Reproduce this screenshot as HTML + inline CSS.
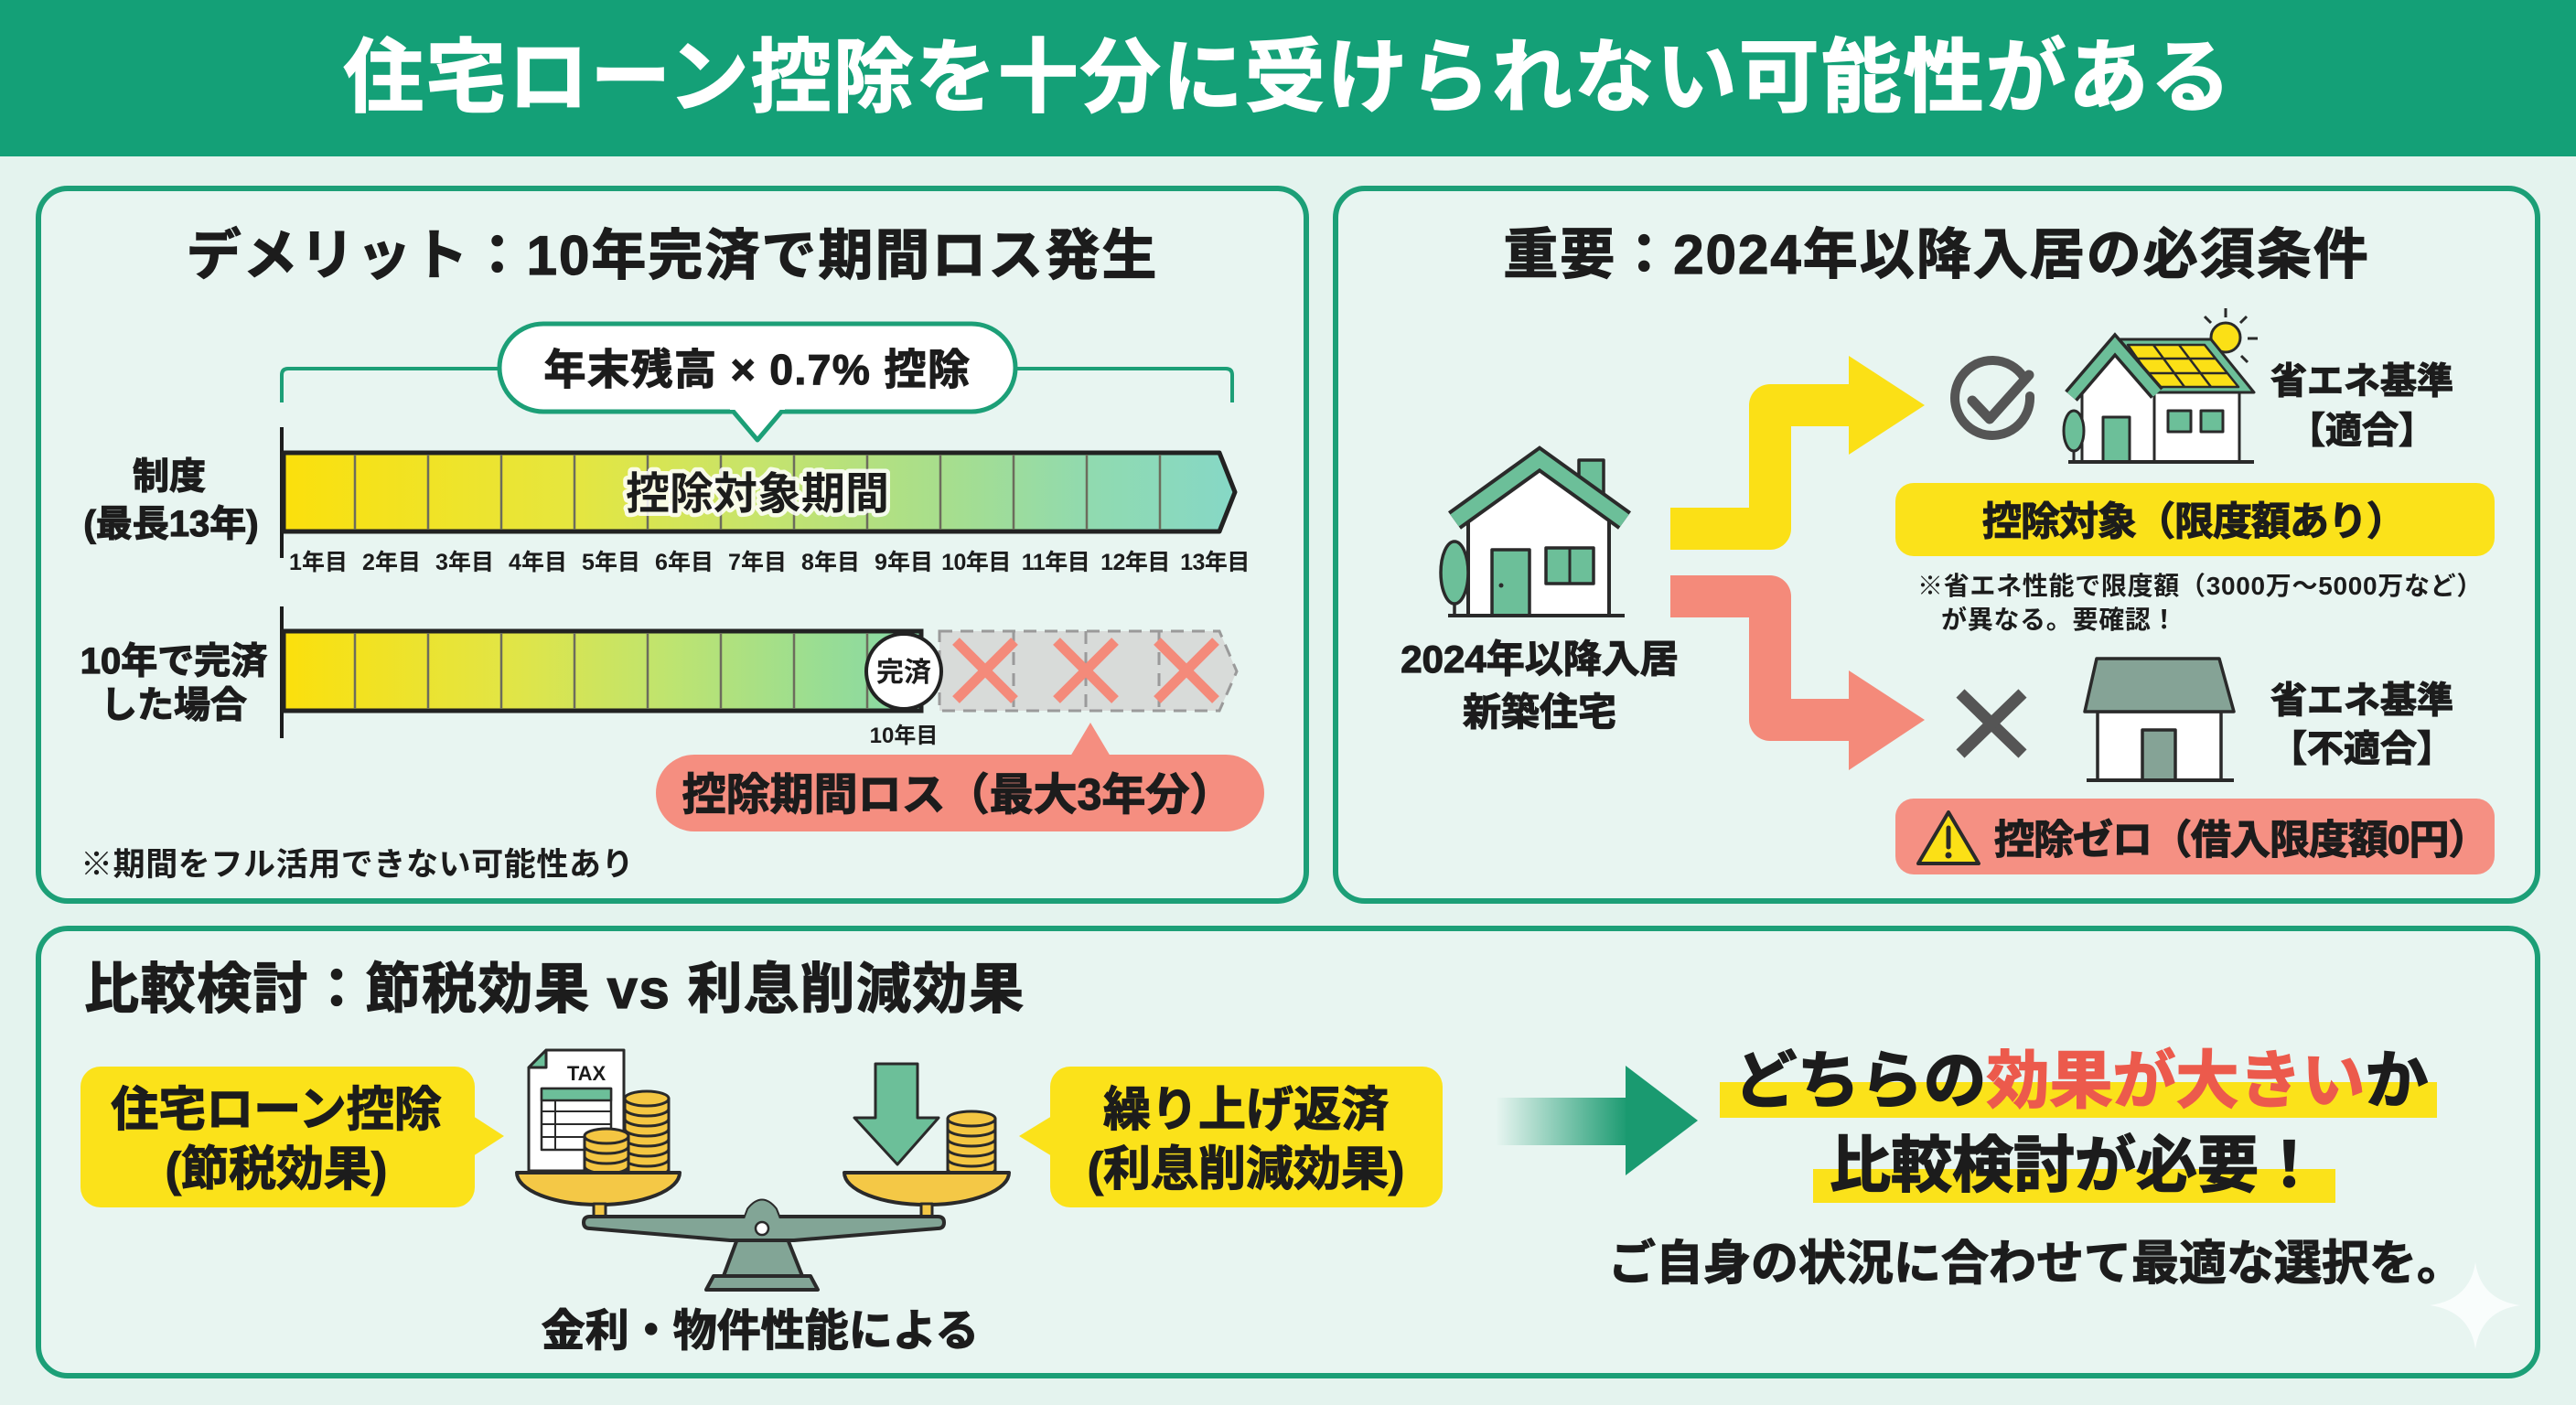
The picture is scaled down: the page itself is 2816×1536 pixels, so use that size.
<!DOCTYPE html>
<html><head><meta charset="utf-8"><style>
html,body{margin:0;padding:0;background:#e4f3ee;}
svg{display:block}
text{font-family:"Liberation Sans","Noto Sans CJK JP",sans-serif;font-weight:700;fill:#1c1c1c}
.hv{stroke:#1c1c1c;stroke-width:1.2;paint-order:stroke}
</style></head><body>
<svg width="2816" height="1536" viewBox="0 0 2816 1536" xmlns="http://www.w3.org/2000/svg">
<defs>
<linearGradient id="g1" x1="310" x2="1350" y1="0" y2="0" gradientUnits="userSpaceOnUse">
<stop offset="0" stop-color="#fbe00c"/><stop offset="0.3" stop-color="#e6e63e"/><stop offset="0.5" stop-color="#c6e46c"/><stop offset="0.7" stop-color="#a6de8e"/><stop offset="0.85" stop-color="#90dab0"/><stop offset="1" stop-color="#86d8c6"/>
</linearGradient>
<linearGradient id="g2" x1="310" x2="1007" y1="0" y2="0" gradientUnits="userSpaceOnUse">
<stop offset="0" stop-color="#fbe00c"/><stop offset="0.35" stop-color="#e2e545"/><stop offset="0.6" stop-color="#bfe46f"/><stop offset="0.85" stop-color="#98dd94"/><stop offset="1" stop-color="#86d7a8"/>
</linearGradient>
<linearGradient id="ga" x1="1635" x2="1780" y1="0" y2="0" gradientUnits="userSpaceOnUse">
<stop offset="0" stop-color="#1a9a70" stop-opacity="0"/><stop offset="1" stop-color="#1a9a70"/>
</linearGradient>
</defs>

<rect x="0" y="0" width="2816" height="1536" fill="#e4f3ee"/>
<rect x="0" y="0" width="2816" height="171" fill="#14a077"/>
<text x="1408" y="115" font-size="88" text-anchor="middle" letter-spacing="2" style="fill:#fff;stroke:#fff;stroke-width:1.5">住宅ローン控除を十分に受けられない可能性がある</text>

<rect x="42" y="206" width="1386" height="779" rx="32" fill="#e8f5f1" stroke="#1c9f77" stroke-width="6"/>
<rect x="1460" y="206" width="1314" height="779" rx="32" fill="#e8f5f1" stroke="#1c9f77" stroke-width="6"/>
<rect x="42" y="1015" width="2732" height="489" rx="32" fill="#e8f5f1" stroke="#1c9f77" stroke-width="6"/>

<!-- PANEL 1 -->
<text class="hv" x="735" y="300" font-size="60" text-anchor="middle" letter-spacing="2">デメリット：10年完済で期間ロス発生</text>

<path d="M308,440 V410 Q308,403 315,403 H1340 Q1347,403 1347,410 V440" fill="none" stroke="#1c9f77" stroke-width="4"/>
<rect x="546" y="354" width="564" height="96" rx="48" fill="#fff" stroke="#1c9f77" stroke-width="5"/>
<path d="M800,448 L828,481 L856,448" fill="#fff" stroke="#1c9f77" stroke-width="5" stroke-linejoin="round"/>
<rect x="798" y="440" width="60" height="8" fill="#fff"/>
<text class="hv" x="828" y="420" font-size="46" text-anchor="middle" letter-spacing="1.5">年末残高 × 0.7% 控除</text>

<line x1="308" y1="467" x2="308" y2="610" stroke="#1c1c1c" stroke-width="4"/>
<polygon points="310,495 1333,495 1350,538 1333,581 310,581" fill="url(#g1)" stroke="#222" stroke-width="5" stroke-linejoin="round"/>
<g stroke="#6c6c5c" stroke-width="2.5">
<line x1="388" y1="497" x2="388" y2="579"/><line x1="468" y1="497" x2="468" y2="579"/><line x1="548" y1="497" x2="548" y2="579"/><line x1="628" y1="497" x2="628" y2="579"/><line x1="708" y1="497" x2="708" y2="579"/><line x1="788" y1="497" x2="788" y2="579"/><line x1="868" y1="497" x2="868" y2="579"/><line x1="948" y1="497" x2="948" y2="579"/><line x1="1028" y1="497" x2="1028" y2="579"/><line x1="1108" y1="497" x2="1108" y2="579"/><line x1="1188" y1="497" x2="1188" y2="579"/><line x1="1268" y1="497" x2="1268" y2="579"/>
</g>
<text x="828" y="556" font-size="48" text-anchor="middle" style="paint-order:stroke;stroke:#ffffff;stroke-width:9;stroke-opacity:0.85;stroke-linejoin:round">控除対象期間</text>

<text x="348" y="623" font-size="25" text-anchor="middle">1年目</text>
<text x="428" y="623" font-size="25" text-anchor="middle">2年目</text>
<text x="508" y="623" font-size="25" text-anchor="middle">3年目</text>
<text x="588" y="623" font-size="25" text-anchor="middle">4年目</text>
<text x="668" y="623" font-size="25" text-anchor="middle">5年目</text>
<text x="748" y="623" font-size="25" text-anchor="middle">6年目</text>
<text x="828" y="623" font-size="25" text-anchor="middle">7年目</text>
<text x="908" y="623" font-size="25" text-anchor="middle">8年目</text>
<text x="988" y="623" font-size="25" text-anchor="middle">9年目</text>
<text x="1067" y="623" font-size="25" text-anchor="middle" letter-spacing="-0.5">10年目</text>
<text x="1154" y="623" font-size="25" text-anchor="middle" letter-spacing="-0.5">11年目</text>
<text x="1241" y="623" font-size="25" text-anchor="middle" letter-spacing="-0.5">12年目</text>
<text x="1328" y="623" font-size="25" text-anchor="middle" letter-spacing="-0.5">13年目</text>

<text class="hv" x="185" y="534" font-size="40" text-anchor="middle">制度</text>
<text class="hv" x="187" y="586" font-size="40" text-anchor="middle">(最長13年)</text>

<line x1="308" y1="663" x2="308" y2="807" stroke="#1c1c1c" stroke-width="4"/>
<rect x="310" y="690" width="697" height="87" fill="url(#g2)" stroke="#222" stroke-width="5"/>
<g stroke="#6c6c5c" stroke-width="2.5">
<line x1="388" y1="692" x2="388" y2="775"/><line x1="468" y1="692" x2="468" y2="775"/><line x1="548" y1="692" x2="548" y2="775"/><line x1="628" y1="692" x2="628" y2="775"/><line x1="708" y1="692" x2="708" y2="775"/><line x1="788" y1="692" x2="788" y2="775"/><line x1="868" y1="692" x2="868" y2="775"/><line x1="948" y1="692" x2="948" y2="775"/>
</g>
<polygon points="1027,690 1333,690 1352,734 1333,777 1027,777" fill="#d8dbd9" stroke="#9a9a9a" stroke-width="3" stroke-dasharray="14 9"/>
<g stroke="#9a9a9a" stroke-width="3" stroke-dasharray="14 9">
<line x1="1108" y1="690" x2="1108" y2="777"/><line x1="1187" y1="690" x2="1187" y2="777"/><line x1="1267" y1="690" x2="1267" y2="777"/>
</g>
<g stroke="#f48a7a" stroke-width="11">
<line x1="1045" y1="701" x2="1109" y2="765"/><line x1="1109" y1="701" x2="1045" y2="765"/>
<line x1="1155" y1="701" x2="1219" y2="765"/><line x1="1219" y1="701" x2="1155" y2="765"/>
<line x1="1265" y1="701" x2="1329" y2="765"/><line x1="1329" y1="701" x2="1265" y2="765"/>
</g>
<circle cx="988" cy="734" r="41" fill="#fff" stroke="#222" stroke-width="4"/>
<text x="988" y="745" font-size="30" text-anchor="middle">完済</text>
<text x="988" y="812" font-size="24" text-anchor="middle">10年目</text>

<text class="hv" x="190" y="736" font-size="40" text-anchor="middle">10年で完済</text>
<text class="hv" x="190" y="784" font-size="40" text-anchor="middle">した場合</text>

<rect x="717" y="825" width="665" height="84" rx="42" fill="#f58e80"/>
<polygon points="1170,827 1192,790 1214,827" fill="#f58e80"/>
<text class="hv" x="1047" y="885" font-size="48" text-anchor="middle" letter-spacing="0">控除期間ロス（最大3年分）</text>

<text x="88" y="957" font-size="35" letter-spacing="0.6">※期間をフル活用できない可能性あり</text>

<!-- PANEL 2 -->
<text class="hv" x="2117" y="299" font-size="60" text-anchor="middle" letter-spacing="2">重要：2024年以降入居の必須条件</text>

<polyline points="1826,578 1935,578 1935,443 2025,443" fill="none" stroke="#fbe016" stroke-width="46" stroke-linejoin="round"/>
<polygon points="2021,389 2104,443 2021,497" fill="#fbe016"/>
<polyline points="1826,652 1935,652 1935,787 2025,787" fill="none" stroke="#f48a7a" stroke-width="46" stroke-linejoin="round"/>
<polygon points="2021,733 2104,787 2021,842" fill="#f48a7a"/>

<g stroke="#2a2a2a" stroke-width="4" stroke-linejoin="round">
<rect x="1726" y="503" width="27" height="45" fill="#6cbf99" stroke-width="3.5"/>
<polygon points="1605,673 1605,560 1683,505 1759,560 1759,673" fill="#fff"/>
<polyline points="1590,569 1683,502 1776,569" fill="none" stroke="#2a2a2a" stroke-width="24" stroke-linejoin="miter"/>
<polyline points="1590,569 1683,502 1776,569" fill="none" stroke="#6cbf99" stroke-width="16" stroke-linejoin="miter"/>
<rect x="1631" y="601" width="41" height="72" fill="#6cbf99" stroke-width="3.5"/>
<rect x="1690" y="599" width="52" height="39" fill="#6cbf99" stroke-width="3.5"/>
<line x1="1716" y1="599" x2="1716" y2="638" stroke-width="3"/>
<ellipse cx="1590" cy="626" rx="15" ry="34" fill="#6cbf99" stroke-width="3.5"/>
<line x1="1590" y1="660" x2="1590" y2="673" stroke-width="3.5"/>
<line x1="1583" y1="673" x2="1776" y2="673"/>
</g>
<circle cx="1641" cy="640" r="2.5" fill="#2a2a2a"/>
<text class="hv" x="1683" y="735" font-size="42" text-anchor="middle">2024年以降入居</text>
<text class="hv" x="1683" y="793" font-size="42" text-anchor="middle">新築住宅</text>

<path d="M2212,412 A41,41 0 1 0 2219,433" fill="none" stroke="#555" stroke-width="10" stroke-linecap="round"/>
<polyline points="2156,438 2175,458 2218,410" fill="none" stroke="#555" stroke-width="11" stroke-linecap="round" stroke-linejoin="round"/>

<g stroke="#2a2a2a" stroke-width="3" stroke-linejoin="round">
<circle cx="2433" cy="369" r="16" fill="#fbe016"/>
<line x1="2433" y1="337" x2="2433" y2="347"/>
<line x1="2410" y1="346" x2="2417" y2="353"/>
<line x1="2456" y1="346" x2="2449" y2="353"/>
<line x1="2457" y1="370" x2="2468" y2="370"/>
<line x1="2450" y1="389" x2="2457" y2="396"/>
<rect x="2355" y="429" width="93" height="76" fill="#fff"/>
<polygon points="2312,371 2417,371 2464,429 2355,429" fill="#6cbf99"/>
<polygon points="2326,377 2410,377 2447,423 2358,423" fill="#fbe016" stroke-width="2.5"/>
<line x1="2354" y1="377" x2="2388" y2="423" stroke-width="2.5"/>
<line x1="2382" y1="377" x2="2417" y2="423" stroke-width="2.5"/>
<line x1="2336" y1="392" x2="2422" y2="392" stroke-width="2.5"/>
<line x1="2347" y1="408" x2="2435" y2="408" stroke-width="2.5"/>
<polygon points="2276,505 2276,430 2312,388 2355,430 2355,505" fill="#fff"/>
<polyline points="2264,433 2312,377 2358,430" fill="none" stroke="#2a2a2a" stroke-width="18" stroke-linejoin="miter"/>
<polyline points="2264,433 2312,377 2358,430" fill="none" stroke="#6cbf99" stroke-width="11" stroke-linejoin="miter"/>
<rect x="2299" y="456" width="29" height="49" fill="#6cbf99"/>
<rect x="2370" y="449" width="25" height="23" fill="#6cbf99"/>
<rect x="2406" y="449" width="24" height="23" fill="#6cbf99"/>
<ellipse cx="2267" cy="471" rx="11" ry="22" fill="#6cbf99"/>
<line x1="2267" y1="493" x2="2267" y2="505"/>
<line x1="2261" y1="505" x2="2464" y2="505" stroke-width="4"/>
</g>
<text class="hv" x="2582" y="430" font-size="40" text-anchor="middle">省エネ基準</text>
<text class="hv" x="2582" y="484" font-size="40" text-anchor="middle">【適合】</text>

<rect x="2072" y="528" width="655" height="80" rx="20" fill="#fbe21a"/>
<text class="hv" x="2398" y="585" font-size="43" text-anchor="middle" letter-spacing="-1">控除対象（限度額あり）</text>
<text x="2096" y="650" font-size="28" letter-spacing="0.7">※省エネ性能で限度額（3000万～5000万など）</text>
<text x="2122" y="687" font-size="28" letter-spacing="0.7">が異なる。要確認！</text>

<g stroke="#555" stroke-width="13">
<line x1="2143" y1="758" x2="2211" y2="824"/><line x1="2211" y1="758" x2="2143" y2="824"/>
</g>
<g stroke="#2a2a2a" stroke-width="3.5" stroke-linejoin="round">
<rect x="2293" y="778" width="135" height="75" fill="#fff"/>
<polygon points="2292,720 2426,720 2442,778 2279,778" fill="#85a396"/>
<rect x="2342" y="798" width="36" height="55" fill="#85a396"/>
<line x1="2281" y1="853" x2="2442" y2="853" stroke-width="4"/>
</g>
<text class="hv" x="2582" y="779" font-size="40" text-anchor="middle">省エネ基準</text>
<text class="hv" x="2582" y="832" font-size="40" text-anchor="middle">【不適合】</text>

<rect x="2072" y="873" width="655" height="83" rx="20" fill="#f59083"/>
<polygon points="2130,888 2163,944 2097,944" fill="#fbe016" stroke="#2a2a2a" stroke-width="4" stroke-linejoin="round"/>
<line x1="2130" y1="905" x2="2130" y2="926" stroke="#2a2a2a" stroke-width="5" stroke-linecap="round"/>
<circle cx="2130" cy="935" r="3.5" fill="#2a2a2a"/>
<text class="hv" x="2180" y="933" font-size="44" letter-spacing="-1">控除ゼロ（借入限度額0円）</text>

<!-- PANEL 3 -->
<text class="hv" x="92" y="1102" font-size="60" letter-spacing="1.5">比較検討：節税効果 vs 利息削減効果</text>

<rect x="88" y="1166" width="431" height="154" rx="22" fill="#fbe21a"/>
<polygon points="517,1220 551,1242 517,1264" fill="#fbe21a"/>
<text class="hv" x="302" y="1231" font-size="52" text-anchor="middle">住宅ローン控除</text>
<text class="hv" x="302" y="1296" font-size="52" text-anchor="middle">(節税効果)</text>

<rect x="1148" y="1166" width="429" height="154" rx="22" fill="#fbe21a"/>
<polygon points="1150,1220 1114,1242 1150,1264" fill="#fbe21a"/>
<text class="hv" x="1362" y="1231" font-size="52" text-anchor="middle">繰り上げ返済</text>
<text class="hv" x="1362" y="1296" font-size="52" text-anchor="middle">(利息削減効果)</text>

<g stroke="#2a2a2a" stroke-width="3" stroke-linejoin="round">
<polygon points="597,1148 682,1148 682,1280 578,1280 578,1167" fill="#fff"/>
<polygon points="578,1167 597,1167 597,1148" fill="#6cbf99"/>
<rect x="592" y="1190" width="76" height="67" fill="#fff" stroke-width="2.5"/>
<rect x="592" y="1190" width="76" height="13" fill="#6cbf99" stroke-width="2.5"/>
<line x1="592" y1="1215" x2="668" y2="1215" stroke-width="2"/>
<line x1="592" y1="1229" x2="668" y2="1229" stroke-width="2"/>
<line x1="592" y1="1243" x2="668" y2="1243" stroke-width="2"/>
<line x1="607" y1="1203" x2="607" y2="1257" stroke-width="2"/>
<rect x="683" y="1201" width="48" height="83" fill="#f4c642"/>
<path d="M683,1212 A24,8 0 0 0 731,1212 M683,1223 A24,8 0 0 0 731,1223 M683,1234 A24,8 0 0 0 731,1234 M683,1245 A24,8 0 0 0 731,1245 M683,1256 A24,8 0 0 0 731,1256 M683,1267 A24,8 0 0 0 731,1267 M683,1278 A24,8 0 0 0 731,1278" fill="none"/>
<ellipse cx="707" cy="1201" rx="24" ry="8" fill="#f4c642"/>
<rect x="639" y="1242" width="48" height="42" fill="#f4c642"/>
<path d="M639,1253 A24,8 0 0 0 687,1253 M639,1264 A24,8 0 0 0 687,1264 M639,1275 A24,8 0 0 0 687,1275" fill="none"/>
<ellipse cx="663" cy="1242" rx="24" ry="8" fill="#f4c642"/>
<rect x="1036" y="1223" width="52" height="61" fill="#f4c642"/>
<path d="M1036,1234 A26,8 0 0 0 1088,1234 M1036,1245 A26,8 0 0 0 1088,1245 M1036,1256 A26,8 0 0 0 1088,1256 M1036,1267 A26,8 0 0 0 1088,1267 M1036,1278 A26,8 0 0 0 1088,1278" fill="none"/>
<ellipse cx="1062" cy="1223" rx="26" ry="8" fill="#f4c642"/>
<polygon points="957,1163 1003,1163 1003,1222 1026,1222 981,1273 934,1222 957,1222" fill="#6cbf99"/>
<path d="M565,1282 A89,35 0 0 0 743,1282 Z" fill="#f4c846" stroke-width="4"/>
<path d="M923,1282 A90,35 0 0 0 1103,1282 Z" fill="#f4c846" stroke-width="4"/>
<rect x="649" y="1316" width="13" height="14" fill="#f4c846"/>
<rect x="1007" y="1316" width="12" height="14" fill="#f4c846"/>
<path d="M791,1395 L818,1322 Q833,1303 848,1322 L877,1395 Z" fill="#82a596" stroke-width="4"/>
<path d="M645,1330 H1025 Q1032,1330 1032,1336.5 Q1032,1343 1025,1343 L868,1356 L798,1356 L645,1343 Q638,1343 638,1336.5 Q638,1330 645,1330 Z" fill="#82a596" stroke-width="4"/>
<path d="M818,1322 Q833,1303 848,1322 L858,1348 L808,1348 Z" fill="#82a596" stroke="none"/>
<circle cx="833" cy="1343" r="7" fill="#fff" stroke-width="2.5"/>
<polygon points="780,1395 886,1395 894,1410 772,1410" fill="#82a596" stroke-width="4"/>
<text x="641" y="1181" font-size="22" text-anchor="middle" stroke="none">TAX</text>
</g>
<text class="hv" x="831" y="1471" font-size="48" text-anchor="middle">金利・物件性能による</text>

<rect x="1635" y="1200" width="145" height="52" fill="url(#ga)"/>
<polygon points="1777,1165 1856,1225 1777,1285" fill="#1a9a70"/>

<rect x="1880" y="1183" width="784" height="39" fill="#fbe21a"/>
<rect x="1982" y="1278" width="571" height="37" fill="#fbe21a"/>
<text class="hv" x="2275" y="1205" font-size="69" text-anchor="middle" style="stroke-width:1.6">どちらの<tspan style="fill:#ec5a4c;stroke:#ec5a4c">効果が大きい</tspan>か</text>
<text class="hv" x="2268" y="1297" font-size="67" text-anchor="middle" style="stroke-width:1.6">比較検討が必要！</text>
<text class="hv" x="2226" y="1399" font-size="52" text-anchor="middle">ご自身の状況に合わせて最適な選択を。</text>

<path d="M2706,1380 Q2712,1421 2755,1427 Q2712,1433 2706,1475 Q2700,1433 2656,1427 Q2700,1421 2706,1380 Z" fill="#ffffff" opacity="0.75"/>
</svg>
</body></html>
